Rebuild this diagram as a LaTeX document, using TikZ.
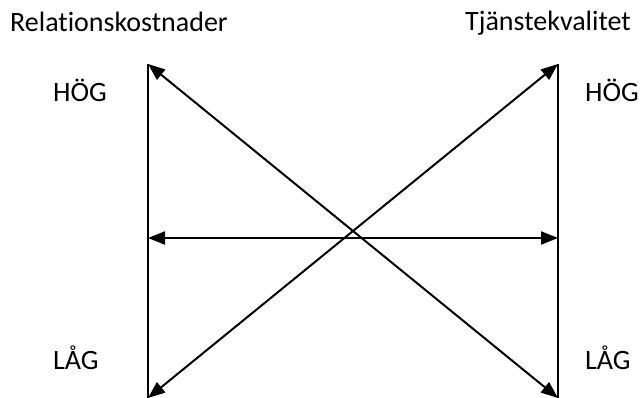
\documentclass[tikz,border=0pt]{standalone}
\usepackage{fontspec}
\setmainfont{Carlito}[Ligatures=NoCommon]
\usepackage{tikz}
\usetikzlibrary{positioning,arrows.meta}

\tikzset{
  lbl/.style={font=\fontsize{28}{33}\selectfont,inner sep=0pt,anchor=base west},
  axisline/.style={line width=2pt},
  pil/.style={line width=2pt,{Triangle[length=17pt,width=13pt]}-{Triangle[length=17pt,width=13pt]}}
}

\begin{document}
\begin{tikzpicture}[x=1pt,y=-1pt]
  \useasboundingbox (0,0) rectangle (641,398);
  % end points of the two scales
  \coordinate (lt) at (148,64);
  \coordinate (lb) at (148,398);
  \coordinate (rt) at (558,64);
  \coordinate (rb) at (558,398);
  \coordinate (lm) at (148,238);
  \coordinate (rm) at (558,238);
  % headings and levels
  \node[lbl] (rk) at (10,32) {Relationskostnader};
  \node[lbl] (tk) at (465,31) {Tjänstekvalitet};
  \node[lbl] (hogl) at (53,102) {HÖG};
  \node[lbl] (hogr) at (585,102) {HÖG};
  \node[lbl] (lagl) at (53,370) {LÅG};
  \node[lbl] (lagr) at (585,370) {LÅG};
  % scales
  \draw[axisline] (lt)--(lb);
  \draw[axisline] (rt)--(rb);
  % arrows
  \draw[pil] (lt)--(rb);
  \draw[pil] (lb)--(rt);
  \draw[pil] (lm)--(rm);
\end{tikzpicture}
\end{document}
